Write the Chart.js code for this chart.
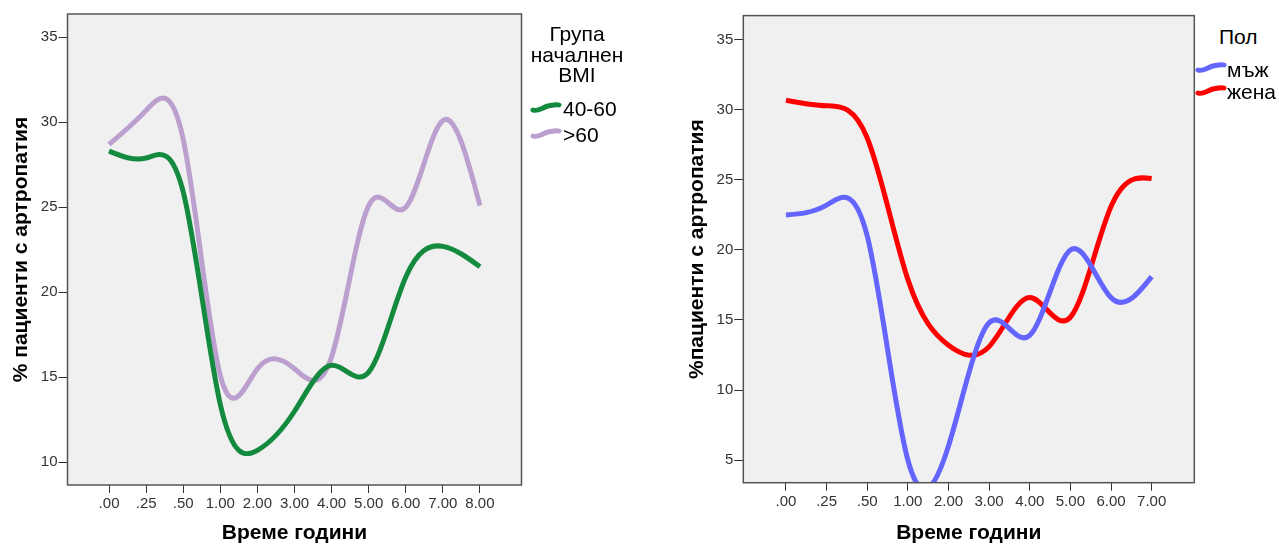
<!DOCTYPE html>
<html lang="bg">
<head>
  <meta charset="UTF-8">
  <title>Пациенти с артропатия по време</title>
  <script src="https://cdn.jsdelivr.net/npm/chart.js"></script>
  <style>
    body {
      margin: 0;
      background: #fff;
      font-family: "Liberation Sans", Arial, sans-serif;
      width: 1279px;
      height: 544px;
      overflow: hidden;
    }
    .box { position: absolute; top: 0; height: 544px; }
    .leg { position: absolute; color: #000; font-size: 21px; line-height: 21px; white-space: nowrap; }
    .sw { position: absolute; }
  </style>
</head>
<body>
  <div class="box" style="left:0;width:530px"><canvas id="bmiChart"></canvas></div>
  <div class="box" style="left:640px;width:565px"><canvas id="sexChart"></canvas></div>

  <!-- легенда: група BMI -->
  <div class="leg" style="left:516px;top:24px;width:122px;text-align:center;line-height:20.5px">Група<br>началнен<br>BMI</div>
  <svg class="sw" style="left:530px;top:100px" width="32" height="14"><path d="M3,10 C8,12 13,7 18,6 C23,5 26,4 29,5" fill="none" stroke="#138a3e" stroke-width="5" stroke-linecap="round"/></svg>
  <div class="leg" style="left:563px;top:98px">40-60</div>
  <svg class="sw" style="left:530px;top:126px" width="32" height="14"><path d="M3,10 C8,12 13,7 18,6 C23,5 26,4 29,5" fill="none" stroke="#bba0cf" stroke-width="5" stroke-linecap="round"/></svg>
  <div class="leg" style="left:563px;top:124px">&gt;60</div>

  <!-- легенда: пол -->
  <div class="leg" style="left:1219px;top:26px">Пол</div>
  <svg class="sw" style="left:1195px;top:60px" width="32" height="14"><path d="M3,10 C8,12 13,7 18,6 C23,5 26,4 29,5" fill="none" stroke="#6464ff" stroke-width="5" stroke-linecap="round"/></svg>
  <div class="leg" style="left:1227px;top:59px">мъж</div>
  <svg class="sw" style="left:1195px;top:83px" width="32" height="14"><path d="M3,10 C8,12 13,7 18,6 C23,5 26,4 29,5" fill="none" stroke="#ff0000" stroke-width="5" stroke-linecap="round"/></svg>
  <div class="leg" style="left:1227px;top:81px">жена</div>

  <script>
    // данни - лява графика (група BMI)
    const bmiLabels = ['.00', '.25', '.50', '1.00', '2.00', '3.00', '4.00', '5.00', '6.00', '7.00', '8.00'];
    const bmi40to60 = [28.3, 27.9, 25.9, 13.4, 10.7, 13.0, 15.7, 15.3, 20.9, 22.7, 21.5];
    const bmiOver60 = [28.7, 30.7, 29.0, 15.1, 15.5, 15.5, 16.2, 25.1, 25.0, 30.1, 25.1];
    const bmiTicksY = [10, 15, 20, 25, 30, 35];

    // данни - дясна графика (пол)
    const sexLabels = ['.00', '.25', '.50', '1.00', '2.00', '3.00', '4.00', '5.00', '6.00', '7.00'];
    const male = [22.5, 23.2, 21.0, 5.0, 6.0, 14.8, 13.9, 20.0, 16.6, 18.1];
    const female = [30.7, 30.3, 28.0, 17.9, 13.2, 13.1, 16.6, 15.2, 23.1, 25.1];
    const sexTicksY = [5, 10, 15, 20, 25, 30, 35];

    const FONT = '"Liberation Sans", Arial, sans-serif';
    const tickFont = { family: FONT, size: 15 };
    const titleFont = { family: FONT, size: 21, weight: 'bold', lineHeight: 1 };

    // естествен кубичен сплайн (като в SPSS) - само контролните точки на линията
    function splineDerivs(xs, ys) {
      const n = xs.length - 1;
      const h = [];
      const M = new Array(n + 1).fill(0);
      for (let i = 0; i < n; i++) h.push(xs[i + 1] - xs[i]);
      const a = [], b = [], c = [], r = [];
      for (let i = 1; i < n; i++) {
        a.push(h[i - 1]);
        b.push(2 * (h[i - 1] + h[i]));
        c.push(h[i]);
        r.push(6 * ((ys[i + 1] - ys[i]) / h[i] - (ys[i] - ys[i - 1]) / h[i - 1]));
      }
      const m = r.length;
      for (let i = 1; i < m; i++) {
        const w = a[i] / b[i - 1];
        b[i] -= w * c[i - 1];
        r[i] -= w * r[i - 1];
      }
      for (let i = m - 1; i >= 0; i--) {
        M[i + 1] = (r[i] - (i < m - 1 ? c[i] * M[i + 2] : 0)) / b[i];
      }
      const d = [];
      for (let i = 0; i < n; i++) d.push((ys[i + 1] - ys[i]) / h[i] - h[i] * (2 * M[i] + M[i + 1]) / 6);
      d.push((ys[n] - ys[n - 1]) / h[n - 1] + h[n - 1] * (M[n - 1] + 2 * M[n]) / 6);
      return { h, d };
    }

    const naturalSpline = {
      id: 'naturalSpline',
      beforeDatasetDraw(chart, args) {
        const meta = args.meta;
        const line = meta.dataset;
        const pts = meta.data;
        if (!line || pts.length < 3) return;
        line.updateControlPoints(chart.chartArea, meta.iScale.axis);
        const { h, d } = splineDerivs(pts.map(p => p.x), pts.map(p => p.y));
        const n = pts.length - 1;
        pts.forEach((p, i) => {
          if (i > 0) { p.cp1x = p.x - h[i - 1] / 3; p.cp1y = p.y - d[i] * h[i - 1] / 3; }
          if (i < n) { p.cp2x = p.x + h[i] / 3; p.cp2y = p.y + d[i] * h[i] / 3; }
        });
        line._path = undefined;
      }
    };

    // сив фон и рамка на графиката
    const plotFrame = {
      id: 'plotFrame',
      beforeDraw(chart) {
        const { ctx, chartArea: a } = chart;
        ctx.save();
        ctx.fillStyle = '#f0f0f0';
        ctx.fillRect(a.left, a.top, a.width, a.height);
        ctx.restore();
      },
      afterDatasetsDraw(chart) {
        const { ctx, chartArea: a } = chart;
        ctx.save();
        ctx.strokeStyle = '#555';
        ctx.lineWidth = 1.5;
        ctx.strokeRect(a.left, a.top, a.width, a.height);
        ctx.restore();
      }
    };

    function series(values, color) {
      return {
        data: values.map((v, i) => ({ x: i, y: v })),
        borderColor: color,
        backgroundColor: color,
        borderWidth: 5,
        pointRadius: 0,
        tension: 0.4,
        capBezierPoints: false,
        clip: 0,
        fill: false
      };
    }

    function xScale(labels, min, max, height) {
      return {
        type: 'linear',
        min: min,
        max: max,
        afterBuildTicks: s => { s.ticks = labels.map((_, i) => ({ value: i })); },
        afterFit: s => { s.height = height; },
        ticks: { callback: v => labels[v], font: tickFont, color: '#333', padding: 2, maxRotation: 0, autoSkip: false },
        grid: { drawOnChartArea: false, tickLength: 8, color: '#333' },
        border: { display: false },
        title: { display: true, text: 'Време години', font: titleFont, color: '#000', padding: { top: 0, bottom: 0 } }
      };
    }

    function yScale(ticks, min, max, width, text, pad) {
      return {
        type: 'linear',
        min: min,
        max: max,
        afterBuildTicks: s => { s.ticks = ticks.map(v => ({ value: v })); },
        afterFit: s => { s.width = width; },
        ticks: { font: tickFont, color: '#333', padding: 1 },
        grid: { drawOnChartArea: false, tickLength: 9, color: '#333' },
        border: { display: false },
        title: { display: true, text: text, font: titleFont, color: '#000', padding: { top: pad, bottom: 0 } }
      };
    }

    function options(xs, ys, pad) {
      return {
        responsive: true,
        maintainAspectRatio: false,
        animation: false,
        layout: { padding: pad },
        plugins: { legend: { display: false }, tooltip: { enabled: false } },
        scales: { x: xs, y: ys }
      };
    }

    new Chart(document.getElementById('bmiChart'), {
      type: 'line',
      data: {
        datasets: [
          series(bmi40to60, '#138a3e'),
          series(bmiOver60, '#bba0cf')
        ]
      },
      options: options(
        xScale(bmiLabels, -1.12, 11.12, 59),
        yScale(bmiTicksY, 8.66, 36.37, 67.5, '% пациенти с артропатия', 10.5),
        { top: 14, right: 8.5, left: 0, bottom: 0 }
      ),
      plugins: [plotFrame, naturalSpline]
    });

    new Chart(document.getElementById('sexChart'), {
      type: 'line',
      data: {
        datasets: [
          series(male, '#6464ff'),
          series(female, '#ff0000')
        ]
      },
      options: options(
        xScale(sexLabels, -1.05, 10.05, 61.3),
        yScale(sexTicksY, 3.38, 36.74, 103.3, '%пациенти с артропатия', 46.5),
        { top: 15.6, right: 10.7, left: 0, bottom: 0 }
      ),
      plugins: [plotFrame, naturalSpline]
    });
  </script>
</body>
</html>
